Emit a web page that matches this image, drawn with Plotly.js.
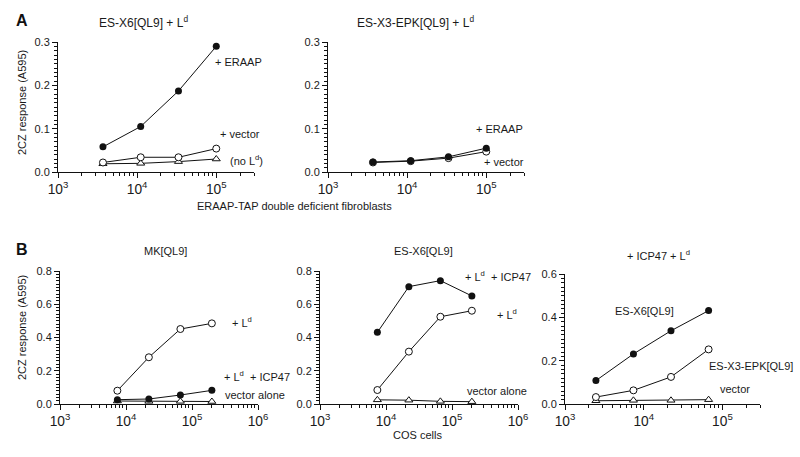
<!DOCTYPE html>
<html>
<head>
<meta charset="utf-8">
<script src="https://cdn.plot.ly/plotly-3.0.1.min.js"></script>
<style>
  html, body { margin: 0; padding: 0; background: #fff; }
  #chart { width: 800px; height: 457px; }
</style>
</head>
<body>
<div id="chart"></div>
<script>
// ------------------------------
// Data
// ------------------------------

// Panel A: ERAAP-TAP double deficient fibroblasts
const aCells = [3700, 11100, 33300, 100000];
const aX6Eraap = [0.058, 0.105, 0.187, 0.290];
const aX6Vector = [0.022, 0.034, 0.034, 0.054];
const aX6NoLd = [0.019, 0.020, 0.024, 0.030];
const aEpkEraap = [0.023, 0.026, 0.035, 0.055];
const aEpkVector = [0.022, 0.025, 0.032, 0.047];

// Panel B: COS cells
const bCells = [7400, 22200, 66700, 200000];
const bMkLd = [0.080, 0.281, 0.451, 0.485];
const bMkLdIcp = [0.026, 0.030, 0.054, 0.082];
const bMkVector = [0.018, 0.016, 0.016, 0.015];

const bX6LdIcp = [0.431, 0.706, 0.742, 0.650];
const bX6Ld = [0.084, 0.315, 0.525, 0.561];
const bX6Vector = [0.025, 0.023, 0.016, 0.014];

const bIcpCells = [2470, 7400, 22200, 66700];
const bIcpX6 = [0.108, 0.231, 0.338, 0.431];
const bIcpEpk = [0.032, 0.063, 0.125, 0.252];
const bIcpVector = [0.015, 0.017, 0.017, 0.020];

// ------------------------------
// Helpers
// ------------------------------

const W = 800, H = 457;
const INK = "#111";
const FONT = "Liberation Sans, Arial, sans-serif";

function px(x) { return x / W; }
function py(y) { return 1 - y / H; }

function filled(x, y, xa, ya) {
  return {
    x, y, xaxis: xa, yaxis: ya, type: "scatter", mode: "lines+markers",
    line: { color: INK, width: 1 },
    marker: { symbol: "circle", size: 7, color: INK },
    showlegend: false, hoverinfo: "x+y",
  };
}

function open(x, y, xa, ya, symbol) {
  return {
    x, y, xaxis: xa, yaxis: ya, type: "scatter", mode: "lines+markers",
    line: { color: INK, width: 1 },
    marker: { symbol: symbol || "circle", size: 7, color: "#fff", line: { color: INK, width: 1 } },
    showlegend: false, hoverinfo: "x+y",
  };
}

function xAxis(domain, range, anchor) {
  return {
    type: "log", domain, range, anchor,
    showline: true, linecolor: INK, linewidth: 1,
    ticks: "outside", ticklen: 5, tickcolor: INK,
    dtick: 1, exponentformat: "power",
    showgrid: false, zeroline: false,
    tickfont: { size: 11, color: "#1a1a1a" },
    minor: { ticks: "outside", ticklen: 3, tickcolor: INK, dtick: "D1" },
  };
}

function yAxis(domain, range, dtick, minorDtick, anchor) {
  return {
    domain, range, anchor, dtick, tickformat: ".1f",
    showline: true, linecolor: INK, linewidth: 1,
    ticks: "outside", ticklen: 5, tickcolor: INK,
    showgrid: false, zeroline: false,
    tickfont: { size: 11, color: "#1a1a1a" },
    minor: { ticks: "outside", ticklen: 3, tickcolor: INK, dtick: minorDtick },
  };
}

function ann(text, x, y, opts) {
  return Object.assign({
    text, x: px(x), y: py(y), xref: "paper", yref: "paper",
    xanchor: "left", yanchor: "middle", showarrow: false,
    font: { size: 11, color: "#1a1a1a", family: FONT },
  }, opts || {});
}

// ------------------------------
// Traces
// ------------------------------

const traces = [
  // A left
  open(aCells, aX6NoLd, "x", "y", "triangle-up"),
  open(aCells, aX6Vector, "x", "y"),
  filled(aCells, aX6Eraap, "x", "y"),
  // A right
  open(aCells, aEpkVector, "x2", "y2"),
  filled(aCells, aEpkEraap, "x2", "y2"),
  // B left
  open(bCells, bMkVector, "x3", "y3", "triangle-up"),
  open(bCells, bMkLd, "x3", "y3"),
  filled(bCells, bMkLdIcp, "x3", "y3"),
  // B middle
  open(bCells, bX6Vector, "x4", "y4", "triangle-up"),
  open(bCells, bX6Ld, "x4", "y4"),
  filled(bCells, bX6LdIcp, "x4", "y4"),
  // B right
  open(bIcpCells, bIcpVector, "x5", "y5", "triangle-up"),
  open(bIcpCells, bIcpEpk, "x5", "y5"),
  filled(bIcpCells, bIcpX6, "x5", "y5"),
];

// ------------------------------
// Layout
// ------------------------------

const aY = [py(172), py(42)];
const bY = [py(404), py(271)];
const bY5 = [py(404), py(274)];

const annotations = [
  ann("<b>A</b>", 22, 20, { xanchor: "center", font: { size: 16, color: "#111", family: FONT } }),
  ann("<b>B</b>", 22, 250, { xanchor: "center", font: { size: 16, color: "#111", family: FONT } }),

  ann("ES-X6[QL9] + L<sup>d</sup>", 143, 22, { xanchor: "center", font: { size: 12, color: "#1a1a1a", family: FONT } }),
  ann("ES-X3-EPK[QL9] + L<sup>d</sup>", 415, 22, { xanchor: "center", font: { size: 12, color: "#1a1a1a", family: FONT } }),
  ann("2CZ response (A595)", 22, 103, { xanchor: "center", textangle: -90 }),
  ann("ERAAP-TAP double deficient fibroblasts", 294, 206, { xanchor: "center" }),

  ann("+ ERAAP", 213, 62),
  ann("+ vector", 218, 134),
  ann("(no L<sup>d</sup>)", 228, 160),
  ann("+ ERAAP", 474, 129),
  ann("+ vector", 482, 162),

  ann("MK[QL9]", 165, 251, { xanchor: "center" }),
  ann("ES-X6[QL9]", 423, 251, { xanchor: "center" }),
  ann("+ ICP47 + L<sup>d</sup>", 658, 255, { xanchor: "center" }),
  ann("2CZ response (A595)", 22, 328, { xanchor: "center", textangle: -90 }),
  ann("COS cells", 417, 435, { xanchor: "center" }),

  ann("+ L<sup>d</sup>", 230, 322),
  ann("+ L<sup>d</sup>  + ICP47", 222, 376),
  ann("vector alone", 223, 395),

  ann("+ L<sup>d</sup>  + ICP47", 463, 276),
  ann("+ L<sup>d</sup>", 495, 314),
  ann("vector alone", 465, 391),

  ann("ES-X6[QL9]", 613, 311),
  ann("ES-X3-EPK[QL9]", 707, 366),
  ann("vector", 718, 389),
];

const layout = {
  width: W, height: H,
  margin: { l: 0, r: 0, t: 0, b: 0 },
  paper_bgcolor: "#fff",
  plot_bgcolor: "#fff",
  font: { family: FONT, color: "#1a1a1a", size: 11 },
  showlegend: false,
  xaxis: xAxis([px(58), px(254)], [3, 5.477], "y"),
  yaxis: yAxis(aY, [0, 0.3], 0.1, 0.01, "x"),
  xaxis2: xAxis([px(328), px(524)], [3, 5.477], "y2"),
  yaxis2: yAxis(aY, [0, 0.3], 0.1, 0.01, "x2"),
  xaxis3: xAxis([px(60), px(258)], [3, 6], "y3"),
  yaxis3: yAxis(bY, [0, 0.8], 0.2, 0.02, "x3"),
  xaxis4: xAxis([px(320), px(518)], [3, 6], "y4"),
  yaxis4: yAxis(bY, [0, 0.8], 0.2, 0.02, "x4"),
  xaxis5: xAxis([px(565), px(760)], [3, 5.477], "y5"),
  yaxis5: yAxis(bY5, [0, 0.6], 0.2, 0.02, "x5"),
  annotations,
};

Plotly.newPlot("chart", traces, layout, { displayModeBar: false, staticPlot: true });
</script>
</body>
</html>
